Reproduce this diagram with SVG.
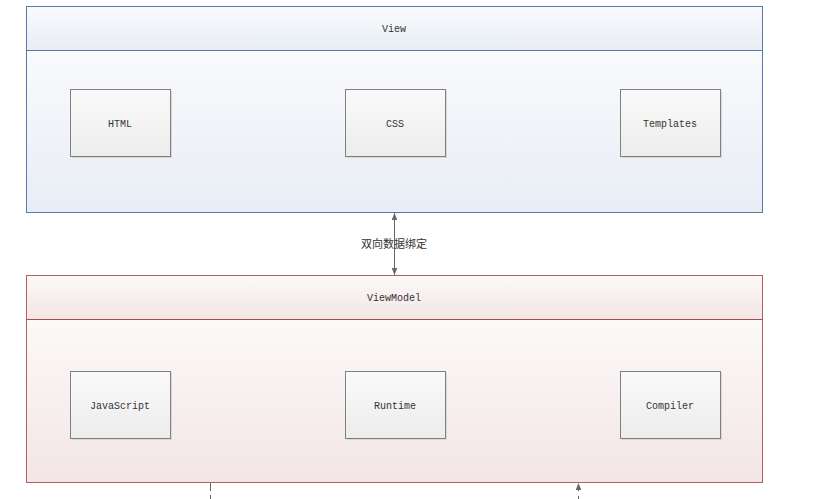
<svg xmlns="http://www.w3.org/2000/svg" width="819" height="499" viewBox="0 0 819 499">
<defs>
<linearGradient id="gBlue" x1="0" y1="0" x2="0" y2="1"><stop offset="0" stop-color="#f9fafc"/><stop offset="1" stop-color="#e8edf5"/></linearGradient>
<linearGradient id="gRed" x1="0" y1="0" x2="0" y2="1"><stop offset="0" stop-color="#fcf9f9"/><stop offset="1" stop-color="#f3e5e5"/></linearGradient>
<linearGradient id="gBox" x1="0" y1="0" x2="0" y2="1"><stop offset="0" stop-color="#fafafa"/><stop offset="1" stop-color="#ececec"/></linearGradient>
<marker id="ah" viewBox="0 0 10 10" refX="10" refY="5" markerWidth="7" markerHeight="7" orient="auto-start-reverse" markerUnits="userSpaceOnUse"><path d="M0,1 L10,5 L0,9 z" fill="#666"/></marker>
</defs>
<style>
.lbl{font-family:"Liberation Mono",monospace;font-size:10px;fill:#333;text-anchor:middle;dominant-baseline:central}
.box rect.b{fill:url(#gBox);stroke:#808080;stroke-width:1}
.box rect.s{fill:#d8d8d8}
.conn{stroke:#666;stroke-width:1;fill:none}
.cn{font-family:"Noto Sans CJK SC","Noto Sans",sans-serif;font-size:11px;fill:#333;text-anchor:middle;dominant-baseline:central}
</style>
<rect width="819" height="499" fill="#fff"/>
<g id="view">
<rect x="26.5" y="6.5" width="736" height="44" fill="url(#gBlue)"/>
<rect x="26.5" y="50.5" width="736" height="162" fill="url(#gBlue)"/>
<rect x="26.5" y="6.5" width="736" height="206" fill="none" stroke="#5878a8"/>
<line x1="26.5" y1="50.5" x2="762.5" y2="50.5" stroke="#5878a8"/>
<text class="lbl" x="394" y="29">View</text>
</g>
<g id="html" class="box"><rect class="s" x="72" y="91" width="100" height="67"/><rect class="b" x="70.5" y="89.5" width="100" height="67"/><text class="lbl" x="120" y="124">HTML</text></g>
<g id="css" class="box"><rect class="s" x="347" y="91" width="100" height="67"/><rect class="b" x="345.5" y="89.5" width="100" height="67"/><text class="lbl" x="395" y="124">CSS</text></g>
<g id="templates" class="box"><rect class="s" x="622" y="91" width="100" height="67"/><rect class="b" x="620.5" y="89.5" width="100" height="67"/><text class="lbl" x="670" y="124">Templates</text></g>
<g id="viewmodel">
<rect x="26.5" y="275.5" width="736" height="44" fill="url(#gRed)"/>
<rect x="26.5" y="319.5" width="736" height="163" fill="url(#gRed)"/>
<rect x="26.5" y="275.5" width="736" height="207" fill="none" stroke="#b06060"/>
<line x1="26.5" y1="319.5" x2="762.5" y2="319.5" stroke="#a05050"/>
<text class="lbl" x="394" y="298">ViewModel</text>
</g>
<g id="javascript" class="box"><rect class="s" x="72" y="373" width="100" height="67"/><rect class="b" x="70.5" y="371.5" width="100" height="67"/><text class="lbl" x="120" y="406">JavaScript</text></g>
<g id="runtime" class="box"><rect class="s" x="347" y="373" width="100" height="67"/><rect class="b" x="345.5" y="371.5" width="100" height="67"/><text class="lbl" x="395" y="406">Runtime</text></g>
<g id="compiler" class="box"><rect class="s" x="622" y="373" width="100" height="67"/><rect class="b" x="620.5" y="371.5" width="100" height="67"/><text class="lbl" x="670" y="406">Compiler</text></g>
<g id="connectors">
<line class="conn" x1="394.5" y1="213" x2="394.5" y2="275" marker-start="url(#ah)" marker-end="url(#ah)"/>
<text class="cn" x="394" y="243">双向数据绑定</text>
<line class="conn" x1="210.5" y1="483" x2="210.5" y2="499" stroke-dasharray="8,4"/>
<line class="conn" x1="578.5" y1="499" x2="578.5" y2="483" stroke-dasharray="3,5" marker-end="url(#ah)"/>
</g>
</svg>
